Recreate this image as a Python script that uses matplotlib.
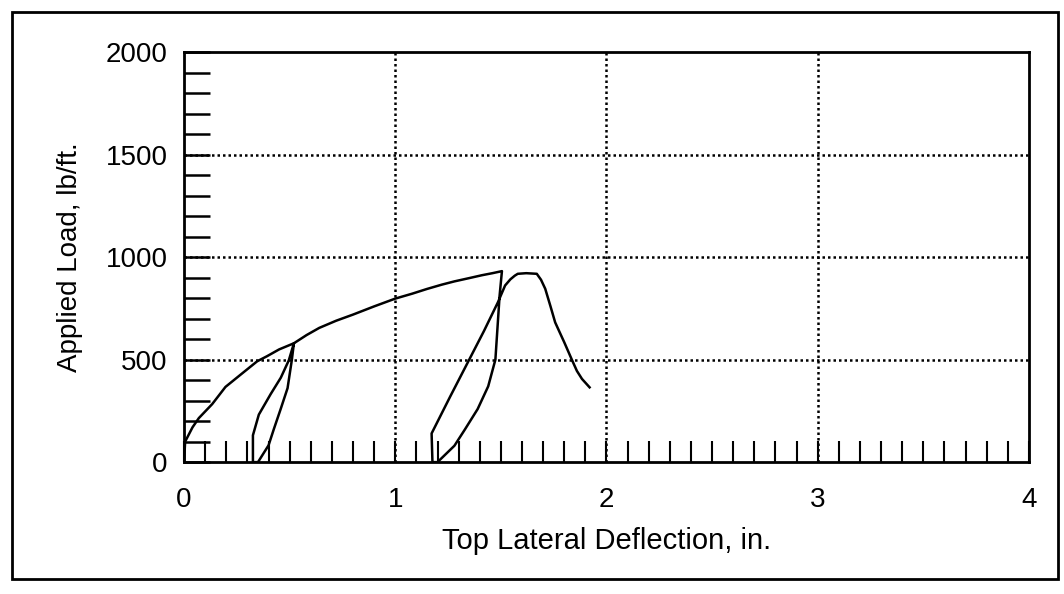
import numpy as np
import matplotlib.pyplot as plt
from matplotlib.patches import Rectangle
from matplotlib.ticker import MultipleLocator

plt.rcParams['font.family'] = ['Liberation Sans', 'DejaVu Sans']

# Load-deflection record (one continuous pen trace)
deflection = [0.0, 0.005, 0.04, 0.07, 0.133, 0.196, 0.275, 0.346, 0.393, 0.45, 0.52,
              0.51, 0.49, 0.458, 0.425, 0.40, 0.35, 0.326,
              0.326, 0.354, 0.41, 0.458, 0.496, 0.52,
              0.58, 0.64, 0.72, 0.80, 0.90, 1.00, 1.08, 1.15, 1.22, 1.28, 1.35, 1.41, 1.46, 1.505,
              1.494, 1.474, 1.44, 1.39, 1.33, 1.28, 1.20, 1.176,
              1.172, 1.26, 1.35, 1.42, 1.486, 1.52, 1.545, 1.566, 1.58, 1.62, 1.67,
              1.69, 1.71, 1.735, 1.757, 1.78, 1.80, 1.836, 1.86, 1.884, 1.92]
load = [0, 100, 170, 215, 283, 367, 433, 492, 517, 550, 580,
        497, 361, 261, 161, 82, 0, 0,
        131, 232, 332, 412, 497, 580,
        620, 655, 690, 720, 760, 798, 822, 845, 866, 882, 898, 912, 922, 932,
        813, 500, 370, 259, 160, 80, 0, 0,
        140, 320, 500, 640, 780, 862, 892, 910, 919, 922, 919,
        890, 846, 760, 682, 630, 585, 500, 445, 406, 365]

x_ticks = [0, 1, 2, 3, 4]
y_ticks = [0, 500, 1000, 1500, 2000]

fig = plt.figure(figsize=(10.64, 5.94), dpi=100)
ax = fig.add_axes([0.173, 0.222, 0.794, 0.69])

ax.plot(deflection, load, color='black', lw=1.8)

ax.set_xlim(0, 4)
ax.set_ylim(0, 2000)
ax.set_xticks(x_ticks)
ax.set_yticks(y_ticks)
ax.xaxis.set_minor_locator(MultipleLocator(0.1))
ax.yaxis.set_minor_locator(MultipleLocator(100))
ax.tick_params(axis='y', which='both', direction='in', length=19, width=1.8,
               labelsize=20, pad=12)
ax.tick_params(axis='x', which='both', direction='in', length=15, width=1.5,
               labelsize=20, pad=18)

for v in x_ticks[1:-1]:
    ax.axvline(v, color='black', lw=1.8, ls=(0, (1, 1.2)), zorder=1)
for v in y_ticks[1:-1]:
    ax.axhline(v, color='black', lw=1.8, ls=(0, (1, 1.2)), zorder=1)

for s in ax.spines.values():
    s.set_linewidth(2)

ax.set_xlabel('Top Lateral Deflection, in.', fontsize=21, labelpad=10)
ax.set_ylabel('Applied Load, lb/ft.', fontsize=20, labelpad=16)

# outer frame of the scanned figure
fig.patches.append(Rectangle((0.011, 0.025), 0.983, 0.955, transform=fig.transFigure,
                             fill=False, edgecolor='black', lw=2))

fig.savefig('out.png', dpi=100)
